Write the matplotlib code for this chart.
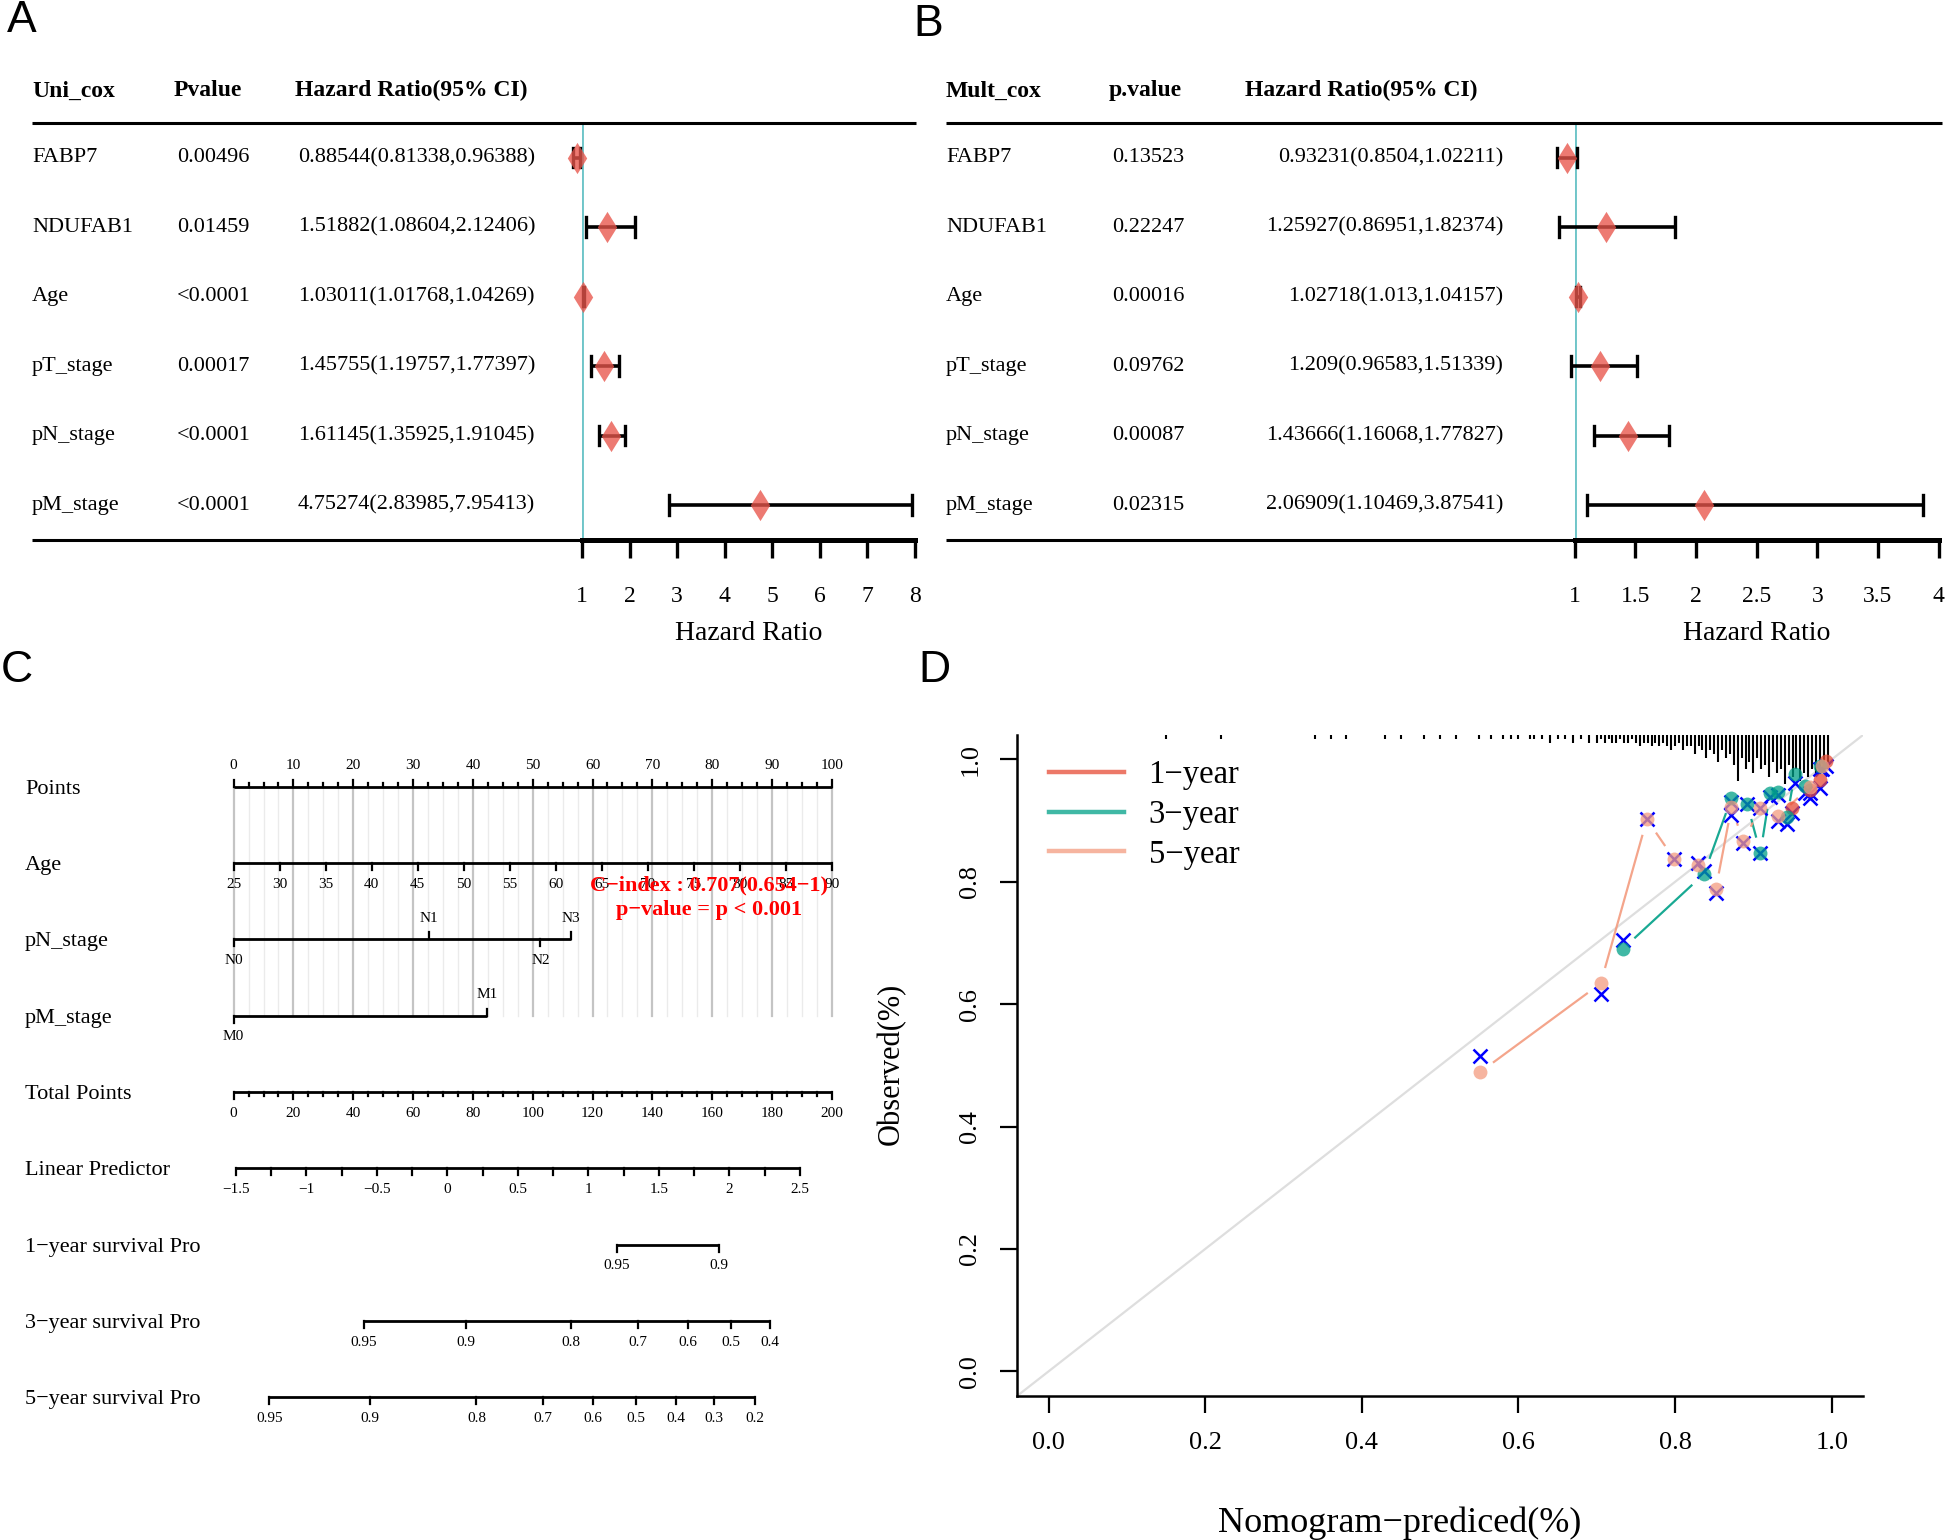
import numpy as np
import matplotlib
matplotlib.use("Agg")
import matplotlib.pyplot as plt
from matplotlib import transforms
from matplotlib.path import Path
from matplotlib.lines import Line2D

# ---------------- data ----------------
variables = ["FABP7", "NDUFAB1", "Age", "pT_stage", "pN_stage", "pM_stage"]

uni_p = ["0.00496", "0.01459", "<0.0001", "0.00017", "<0.0001", "<0.0001"]
uni_hr = [0.88544, 1.51882, 1.03011, 1.45755, 1.61145, 4.75274]
uni_lo = [0.81338, 1.08604, 1.01768, 1.19757, 1.35925, 2.83985]
uni_hi = [0.96388, 2.12406, 1.04269, 1.77397, 1.91045, 7.95413]
uni_ticks = [1, 2, 3, 4, 5, 6, 7, 8]

mult_p = ["0.13523", "0.22247", "0.00016", "0.09762", "0.00087", "0.02315"]
mult_hr = [0.93231, 1.25927, 1.02718, 1.209, 1.43666, 2.06909]
mult_lo = [0.8504, 0.86951, 1.013, 0.96583, 1.16068, 1.10469]
mult_hi = [1.02211, 1.82374, 1.04157, 1.51339, 1.77827, 3.87541]
mult_ticks = [1, 1.5, 2, 2.5, 3, 3.5, 4]
mult_tick_labels = ["1", "1.5", "2", "2.5", "3", "3.5", "4"]

# nomogram
nomo_rows = ["Points", "Age", "pN_stage", "pM_stage", "Total Points", "Linear Predictor",
             "1\u2212year survival Pro", "3\u2212year survival Pro", "5\u2212year survival Pro"]
age_range = [25, 90]
age_ticks = [25, 30, 35, 40, 45, 50, 55, 60, 65, 70, 75, 80, 85, 90]
pn_levels = ["N0", "N1", "N2", "N3"]
pn_points = [0, 32.7, 51.3, 56.4]
pm_levels = ["M0", "M1"]
pm_points = [0, 42.4]
lp_ticks = [-1.5, -1.25, -1, -0.75, -0.5, -0.25, 0, 0.25, 0.5, 0.75, 1, 1.25, 1.5, 1.75, 2, 2.25, 2.5]
lp_labels = ["\u22121.5", "\u22121", "\u22120.5", "0", "0.5", "1", "1.5", "2", "2.5"]
lp_total_at_min, lp_total_at_max = 0.77, 189.3
surv1_labels = ["0.95", "0.9"]
surv1_total = [128.2, 162.2]
surv3_labels = ["0.95", "0.9", "0.8", "0.7", "0.6", "0.5", "0.4"]
surv3_total = [43.6, 77.8, 112.8, 135.2, 151.9, 166.3, 179.3]
surv5_labels = ["0.95", "0.9", "0.8", "0.7", "0.6", "0.5", "0.4", "0.3", "0.2"]
surv5_total = [11.9, 45.7, 81.2, 103.3, 120.2, 134.6, 147.8, 160.6, 174.3]
cindex_text = "C\u2212index : 0.707(0.654\u22121)"
pvalue_text = "p\u2212value = p < 0.001"

# calibration
one_x = [0.949, 0.972, 0.985, 0.993]
one_y = [0.920, 0.950, 0.967, 0.997]
one_bc = [0.912, 0.937, 0.953, 0.990]
three_x = [0.733, 0.837, 0.872, 0.892, 0.909, 0.921, 0.932, 0.943, 0.953, 0.966, 0.985]
three_y = [0.690, 0.813, 0.937, 0.928, 0.847, 0.945, 0.947, 0.906, 0.977, 0.956, 0.990]
three_bc = [0.705, 0.818, 0.930, 0.928, 0.847, 0.938, 0.942, 0.895, 0.962, 0.945, 0.985]
five_x = [0.551, 0.705, 0.764, 0.799, 0.829, 0.852, 0.872, 0.887, 0.909, 0.932, 0.972, 0.988]
five_y = [0.489, 0.634, 0.902, 0.837, 0.828, 0.788, 0.922, 0.867, 0.920, 0.908, 0.955, 0.990]
five_bc = [0.516, 0.617, 0.902, 0.837, 0.830, 0.782, 0.909, 0.864, 0.920, 0.900, 0.945, 0.985]
rug_x = [0.15, 0.22, 0.34, 0.36, 0.38, 0.43, 0.45, 0.48, 0.50, 0.52, 0.55, 0.565, 0.58, 0.59,
         0.60, 0.615, 0.62, 0.63, 0.64, 0.65, 0.66, 0.67, 0.68, 0.69,
         0.700, 0.705, 0.710, 0.715, 0.720, 0.725, 0.730, 0.735, 0.740, 0.745,
         0.750, 0.755, 0.760, 0.765, 0.770, 0.775, 0.780, 0.785, 0.790, 0.795,
         0.800, 0.805, 0.810, 0.815, 0.820, 0.825, 0.830, 0.835, 0.840, 0.845,
         0.850, 0.855, 0.860, 0.865, 0.870, 0.875, 0.880, 0.885, 0.890, 0.895,
         0.900, 0.905, 0.910, 0.915, 0.920, 0.925, 0.930, 0.935, 0.940, 0.945,
         0.950, 0.955, 0.960, 0.965, 0.970, 0.975, 0.980, 0.985, 0.990, 0.995]
rug_n = [1, 1, 1, 1, 1, 1, 1, 1, 1, 1, 1, 1, 1, 1,
         1, 1, 1, 1, 2, 1, 1, 2, 1, 2,
         2, 1, 2, 1, 2, 2, 1, 2, 2, 1,
         2, 3, 2, 2, 3, 2, 3, 2, 3, 4,
         3, 2, 4, 3, 3, 5, 3, 4, 6, 4,
         5, 7, 4, 6, 5, 8, 12, 6, 9, 7,
         10, 6, 9, 8, 11, 7, 10, 9, 13, 8,
         11, 9, 12, 10, 11, 9, 10, 9, 10, 9]
cal_ticks = [0.0, 0.2, 0.4, 0.6, 0.8, 1.0]
cal_labels = ["0.0", "0.2", "0.4", "0.6", "0.8", "1.0"]
series_names = ["1\u2212year", "3\u2212year", "5\u2212year"]
series_colors = ["#E64B35", "#00A087", "#F39B7F"]

# ---------------- figure ----------------
W, H = 1946, 1540
SERIF = ["Liberation Serif", "DejaVu Serif"]
SANS = ["Liberation Sans", "DejaVu Sans"]
plt.rcParams["font.family"] = SERIF
fig = plt.figure(figsize=(W / 100, H / 100), dpi=100)


def fx(px):
    return px / W


def fy(py):
    return 1 - py / H


for letter, (lx, ly) in zip("ABCD", [(22, 20), (928, 24), (17, 670), (934, 670)]):
    fig.text(fx(lx), fy(ly), letter, family=SANS, fontsize=32, ha="center", va="center")

diamond = Path([(0, 1), (0.62, 0), (0, -1), (-0.62, 0), (0, 1)],
               [Path.MOVETO, Path.LINETO, Path.LINETO, Path.LINETO, Path.CLOSEPOLY])


def forest(ax_left_px, ax_right_px, xlim, ticks, tick_labels, header, names_x, p_x, hr_x,
           hr_ha, line_x0, line_x1, pvals, hr, lo, hi):
    top, bottom = 122.9, 539.9
    ax = fig.add_axes([fx(ax_left_px), fy(bottom), (ax_right_px - ax_left_px) / W, (bottom - top) / H])
    ax.set_xlim(*xlim)
    ax.set_ylim(5.5, -0.5)
    tr = transforms.blended_transform_factory(fig.transFigure, ax.transData)
    for s in ["top", "right", "left"]:
        ax.spines[s].set_visible(False)
    ax.spines["bottom"].set_linewidth(3.6)
    ax.set_yticks([])
    ax.set_xticks(ticks)
    ax.set_xticklabels(tick_labels)
    ax.tick_params(axis="x", direction="out", length=13, width=2.4, pad=20, labelsize=17)
    ax.plot([fx(line_x0), fx(line_x1)], [-0.5, -0.5], transform=tr, color="black", lw=2.2,
            clip_on=False, solid_capstyle="butt")
    ax.plot([fx(line_x0), fx(ax_left_px)], [5.5, 5.5], transform=tr, color="black", lw=2.2,
            clip_on=False, solid_capstyle="butt")
    for (txt, x) in zip(header, [names_x, p_x - 3, hr_x[0]]):
        ax.text(fx(x), -0.96, txt, transform=tr, fontsize=17, fontweight="bold", ha="left", va="center")
    ax.axvline(1, color="#6FC5C9", lw=2.8, zorder=1)
    for i, name in enumerate(variables):
        ax.text(fx(names_x), i, name, transform=tr, fontsize=16, ha="left", va="center")
        ax.text(fx(p_x), i, pvals[i], transform=tr, fontsize=16, ha="left", va="center")
        ax.text(fx(hr_x[1]), i, f"{hr[i]}({lo[i]},{hi[i]})", transform=tr, fontsize=16,
                ha=hr_ha, va="center")
        ax.plot([lo[i], hi[i]], [i, i], color="black", lw=2.6, clip_on=False, zorder=2,
                solid_capstyle="butt")
        for e in (lo[i], hi[i]):
            ax.plot([e, e], [i - 0.14, i + 0.14], color="black", lw=2.4, clip_on=False, zorder=2)
        ax.plot([hr[i]], [i], marker=diamond, markersize=22.5, color="#E8554B", alpha=0.78,
                markeredgewidth=0, linestyle="none", clip_on=False, zorder=3)
    fig.text(fx((ax_left_px + ax_right_px) / 2), fy(633), "Hazard Ratio", fontsize=20,
             ha="center", va="center")
    return ax


forest(582.0, 914.6, (1, 8), uni_ticks, [str(t) for t in uni_ticks],
       ["Uni_cox", "Pvalue", "Hazard Ratio(95% CI)"], 32, 177, (295, 298), "left", 32, 916,
       uni_p, uni_hr, uni_lo, uni_hi)
forest(1574.8, 1938.5, (1, 4), mult_ticks, mult_tick_labels,
       ["Mult_cox", "p.value", "Hazard Ratio(95% CI)"], 946, 1112, (1245, 1503), "right", 946, 1942,
       mult_p, mult_hr, mult_lo, mult_hi)

# ---------------- C: nomogram ----------------
x0_px, x100_px = 233.6, 831.8
r0_px, r8_px = 786.8, 1397.4
axc = fig.add_axes([fx(x0_px), fy(r8_px), (x100_px - x0_px) / W, (r8_px - r0_px) / H])
axc.set_xlim(0, 100)
axc.set_ylim(8, 0)
axc.axis("off")
row_px = (r8_px - r0_px) / 8
trc = transforms.blended_transform_factory(fig.transFigure, axc.transData)
TK = 7 / row_px       # major tick length in rows
TKm = 3.5 / row_px    # minor tick length
LBL = 21 / row_px     # label offset
LW = 2.0
TS = 11

for r, lab in enumerate(nomo_rows):
    axc.text(fx(25), r + 0.03, lab, transform=trc, fontsize=16, ha="left", va="center")

for p in np.arange(0, 100.01, 2.5):
    major = abs(p / 10 - round(p / 10)) < 1e-9
    axc.plot([p, p], [0, 3], color="#C4C4C4" if major else "#EBEBEB", lw=1.6 if major else 1.0,
             zorder=0, clip_on=False)


def hline(r, a, b):
    axc.plot([a, b], [r, r], color="black", lw=LW, clip_on=False, solid_capstyle="butt")


def tick(r, x, up, length=None):
    L = TK if length is None else length
    axc.plot([x, x], [r, r - L if up else r + L], color="black", lw=LW * 0.8, clip_on=False)


def label(r, x, s, up):
    axc.text(x, r - LBL if up else r + LBL, s, fontsize=TS, ha="center", va="center")


hline(0, 0, 100)
for p in np.arange(0, 100.01, 2.5):
    if abs(p / 10 - round(p / 10)) < 1e-9:
        tick(0, p, True)
        label(0, p, f"{int(p)}", True)
    else:
        tick(0, p, True, TKm)
age_pts = [(a - age_range[0]) / (age_range[1] - age_range[0]) * 100 for a in age_ticks]
hline(1, age_pts[0], age_pts[-1])
for a, p in zip(age_ticks, age_pts):
    tick(1, p, False)
    label(1, p, str(a), False)
hline(2, pn_points[0], pn_points[-1])
for k, (lv, p) in enumerate(zip(pn_levels, pn_points)):
    up = k % 2 == 1
    tick(2, p, up)
    label(2, p, lv, up)
hline(3, pm_points[0], pm_points[-1])
for k, (lv, p) in enumerate(zip(pm_levels, pm_points)):
    up = k % 2 == 1
    tick(3, p, up)
    label(3, p, lv, up)
hline(4, 0, 100)
for t in np.arange(0, 200.01, 5):
    if t % 20 == 0:
        tick(4, t / 2, False)
        label(4, t / 2, f"{int(t)}", False)
    else:
        tick(4, t / 2, False, TKm)
lp_tp = [lp_total_at_min + (v - lp_ticks[0]) / (lp_ticks[-1] - lp_ticks[0]) * (lp_total_at_max - lp_total_at_min)
         for v in lp_ticks]
hline(5, lp_tp[0] / 2, lp_tp[-1] / 2)
li = 0
for v, t in zip(lp_ticks, lp_tp):
    tick(5, t / 2, False)
    if abs(v * 2 - round(v * 2)) < 1e-9:
        label(5, t / 2, lp_labels[li], False)
        li += 1
for r, labs, tps in [(6, surv1_labels, surv1_total), (7, surv3_labels, surv3_total),
                     (8, surv5_labels, surv5_total)]:
    hline(r, tps[0] / 2, tps[-1] / 2)
    for s, t in zip(labs, tps):
        tick(r, t / 2, False)
        label(r, t / 2, s, False)

axc.text(79.5, 1.29, cindex_text, color="#FF0000", fontsize=16, fontweight="bold", ha="center",
         va="center", clip_on=False)
axc.text(79.5, 1.62, pvalue_text, color="#FF0000", fontsize=16, fontweight="bold", ha="center",
         va="center", clip_on=False)

# ---------------- D: calibration ----------------
axd = fig.add_axes([fx(1017.3), fy(1395.8), (1863.0 - 1017.3) / W, (1395.8 - 735.0) / H])
axd.set_xlim(-0.04, 1.04)
axd.set_ylim(-0.04, 1.04)
for s in ["top", "right"]:
    axd.spines[s].set_visible(False)
for s in ["left", "bottom"]:
    axd.spines[s].set_linewidth(1.8)
axd.set_xticks(cal_ticks)
axd.set_xticklabels(cal_labels)
axd.set_yticks(cal_ticks)
axd.set_yticklabels(cal_labels, rotation=90, va="center")
axd.tick_params(axis="both", direction="out", length=12, width=1.6, labelsize=19)
axd.tick_params(axis="x", pad=14)
axd.tick_params(axis="y", pad=14)

axd.axline((0, 0), (1, 1), color="#DEDEDE", lw=1.6, zorder=0)

unit = 0.0062
axd.vlines(rug_x, [1.04 - n * unit for n in rug_n], 1.04, color="black", lw=1.5, clip_on=False)


def gapped_line(xs, ys, color, gap_px=16, lw=1.6, alpha=0.9):
    pts = axd.transData.transform(np.column_stack([xs, ys]))
    inv = axd.transData.inverted()
    for (xa, ya), (xb, yb) in zip(pts[:-1], pts[1:]):
        d = np.hypot(xb - xa, yb - ya)
        if d <= 2 * gap_px:
            continue
        ux, uy = (xb - xa) / d, (yb - ya) / d
        seg = inv.transform([(xa + ux * gap_px, ya + uy * gap_px), (xb - ux * gap_px, yb - uy * gap_px)])
        axd.plot(seg[:, 0], seg[:, 1], color=color, lw=lw, alpha=alpha, solid_capstyle="butt", zorder=2)


for xs, ys, bc, col in [(one_x, one_y, one_bc, series_colors[0]),
                        (three_x, three_y, three_bc, series_colors[1]),
                        (five_x, five_y, five_bc, series_colors[2])]:
    gapped_line(xs, ys, col)
    axd.plot(xs, bc, linestyle="none", marker="x", markersize=10, markeredgewidth=1.8,
             color="#0000FF", zorder=3)
    axd.plot(xs, ys, linestyle="none", marker="o", markersize=10, markeredgewidth=0,
             color=col, alpha=0.75, zorder=4)

handles = [Line2D([], [], color=c, lw=3.2, alpha=0.75) for c in series_colors]
axd.legend(handles, series_names, loc="upper left", bbox_to_anchor=(fx(1049), fy(760)),
           bbox_transform=fig.transFigure, frameon=False, fontsize=23.5, handlelength=2.3,
           handletextpad=0.75, labelspacing=0.28, borderpad=0, borderaxespad=0)

fig.text(fx(1400), fy(1523), "Nomogram\u2212prediced(%)", fontsize=26, ha="center", va="center")
fig.text(fx(891), fy(1064), "Observed(%)", fontsize=22, ha="center", va="center", rotation=90)

fig.savefig("out.png", dpi=100)
